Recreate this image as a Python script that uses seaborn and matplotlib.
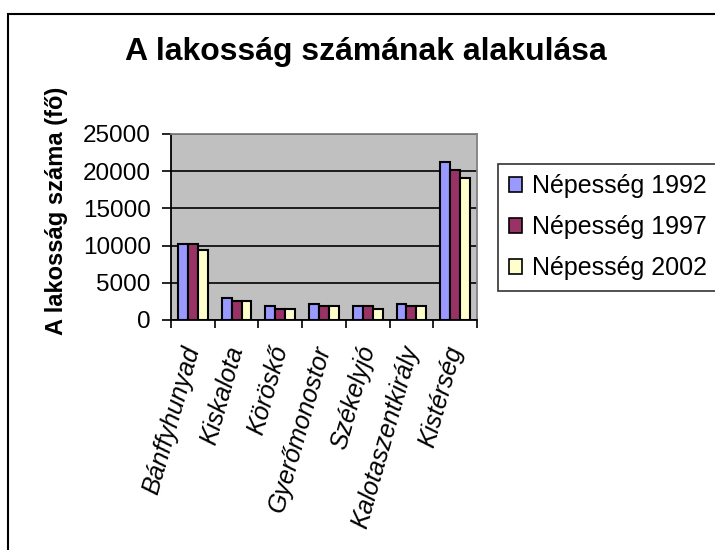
import matplotlib
matplotlib.use("Agg")
import matplotlib.pyplot as plt
import matplotlib.patches as mpatches
import seaborn as sns
import pandas as pd

categories = ["Bánffyhunyad", "Kiskalota", "Körösk\u0151", "Gyer\u0151monostor",
              "Székelyjó", "Kalotaszentkirály", "Kistérség"]
series_names = ["Népesség 1992", "Népesség 1997", "Népesség 2002"]
nep_1992 = [10200, 2900, 1850, 2100, 1850, 2100, 21200]
nep_1997 = [10200, 2600, 1500, 1850, 1850, 1850, 20100]
nep_2002 = [9400, 2600, 1500, 1850, 1500, 1850, 19050]
y_ticks = [0, 5000, 10000, 15000, 20000, 25000]
colors = ["#9999FF", "#993366", "#FFFFCC"]

rows = []
for name, vals in zip(series_names, [nep_1992, nep_1997, nep_2002]):
    for c, v in zip(categories, vals):
        rows.append({"cat": c, "series": name, "value": v})
df = pd.DataFrame(rows)

sns.set_style("white")
plt.rcParams["font.family"] = ["Liberation Sans", "DejaVu Sans"]
plt.rcParams["text.color"] = "black"
plt.rcParams["axes.labelcolor"] = "black"
plt.rcParams["xtick.color"] = "black"
plt.rcParams["ytick.color"] = "black"

fig = plt.figure(figsize=(7.15, 5.5), dpi=100)
ax = fig.add_axes([171/715, 1-320/550, (477-171)/715, (320-134)/550])

sns.barplot(data=df, x="cat", y="value", hue="series", palette=colors,
            hue_order=series_names, order=categories, width=0.68,
            edgecolor="black", linewidth=1.5, saturation=1, ax=ax, zorder=3)

ax.set_facecolor("#C0C0C0")
ax.set_ylim(0, 25000)
ax.set_xlim(-0.5, len(categories) - 0.5)
ax.set_yticks(y_ticks)
ax.set_yticklabels([str(t) for t in y_ticks], fontsize=17.5)
ax.yaxis.grid(True, color="black", linewidth=1.2, zorder=0)
ax.set_axisbelow(True)

# category boundary ticks and centered labels
ax.set_xticks([i - 0.5 for i in range(len(categories) + 1)])
ax.set_xticklabels([])
ax.set_xticks(range(len(categories)), minor=True)
ax.set_xticklabels(categories, minor=True, rotation=74, ha="right", va="center",
                   rotation_mode="anchor", fontsize=18, style="italic")
ax.tick_params(axis="x", which="major", length=5.5, width=1.2, color="black", direction="out", bottom=True)
ax.tick_params(axis="x", which="minor", length=0, pad=19)
ax.tick_params(axis="y", length=6.5, width=1.2, color="black", direction="out", left=True, pad=8)

for s in ["left", "bottom"]:
    ax.spines[s].set_color("black")
    ax.spines[s].set_linewidth(1.3)
for s in ["top", "right"]:
    ax.spines[s].set_color("#808080")
    ax.spines[s].set_linewidth(1.3)
    ax.spines[s].set_visible(True)

ax.set_xlabel("")
ax.set_ylabel("A lakosság száma (f\u0151)", fontsize=17, fontweight="bold")
ax.yaxis.set_label_coords((68-171)/306, (320-211)/186)

fig.text(366/715, 1-52/550, "A lakosság számának alakulása", fontsize=23,
         fontweight="bold", ha="center", va="center")

leg = ax.get_legend()
if leg is not None:
    leg.remove()
handles = [mpatches.Patch(facecolor=c, edgecolor="black", linewidth=1.2) for c in colors]
lg = fig.legend(handles, series_names, loc="upper left",
                bbox_to_anchor=(498/715, 1-164/550), fontsize=18,
                frameon=True, fancybox=False, edgecolor="black",
                handlelength=0.55, handleheight=0.55, handletextpad=0.4,
                labelspacing=0.68, borderpad=0.42, borderaxespad=0)
lg.get_frame().set_linewidth(1.2)

# outer chart border
fig.patches.append(mpatches.Rectangle((8/715, -0.1), 1.2, 1.1 - 14/550,
                                      transform=fig.transFigure, fill=False,
                                      edgecolor="black", linewidth=1.5))

fig.savefig("out.png", dpi=100, facecolor="white")
